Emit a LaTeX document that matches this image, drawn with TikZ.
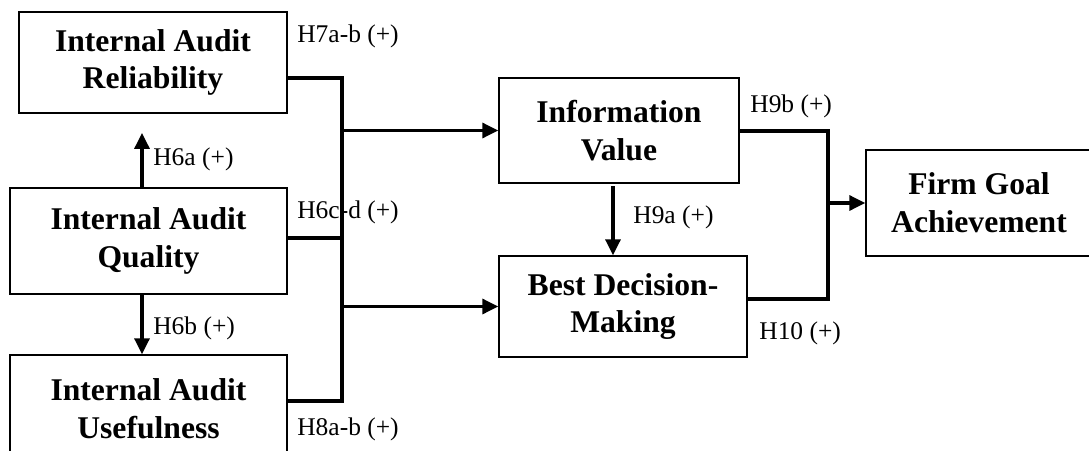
\documentclass[tikz,border=0pt]{standalone}
\usepackage{fontspec}
\setmainfont{Liberation Serif}
\usetikzlibrary{arrows.meta}

\tikzset{
  construct/.style={draw=black, line width=0.9pt, align=center, inner sep=0pt,
    font=\bfseries\fontsize{18}{21.5}\selectfont},
  hyp/.style={anchor=base west, inner sep=0pt, font=\fontsize{14.5}{17}\selectfont},
  link/.style={draw=black, line width=1.8pt},
  arrowlink/.style={link, -{Triangle[length=9pt,width=8.5pt]}}
}

\begin{document}
\begin{tikzpicture}[x=0.02cm, y=-0.02cm]
  \useasboundingbox (0,0) rectangle (1089,450);
  \clip (0,0) rectangle (1089,450);

  % constructs
  \node[construct, minimum width=5.36cm, minimum height=2.02cm] (rel) at (153,62.5)
    {Internal Audit\\Reliability};
  \node[construct, minimum width=5.54cm, minimum height=2.12cm] (qual) at (148.5,241)
    {Internal Audit\\Quality};
  \node[construct, minimum width=5.54cm, minimum height=2.14cm] (use) at (148.5,408.5)
    {Internal Audit\\Usefulness};
  \node[construct, minimum width=4.8cm, minimum height=2.1cm] (iv) at (619,130.5)
    {Information\\Value};
  \node[construct, minimum width=4.96cm, minimum height=2.02cm] (bd) at (623,306.5)
    {Best Decision-\\Making};
  \node[construct, minimum width=4.52cm, minimum height=2.12cm] (fg) at (979,203)
    {Firm Goal\\Achievement};

  % junction points
  \coordinate (busTop) at (342,78);
  \coordinate (busMid) at (342,238);
  \coordinate (busBot) at (342,401);
  \coordinate (h6aTip) at (142,133);
  \coordinate (h6bCol) at (142,300);
  \coordinate (h9aTop) at (613,186);
  \coordinate (mTop) at (828,131);
  \coordinate (mBot) at (828,299);

  % left bus
  \draw[link] (rel.east |- busTop) -- (busTop) -- (busBot) -- (use.east |- busBot);
  \draw[link] (qual.east |- busMid) -- (busMid);
  \draw[arrowlink] (busTop |- iv.west) -- (iv.west);
  \draw[arrowlink] (busTop |- bd.west) -- (bd.west);

  % vertical links on the left
  \draw[arrowlink] (qual.north -| h6aTip) -- (h6aTip);
  \draw[arrowlink] (qual.south -| h6bCol) -- (use.north -| h6bCol);

  % middle link
  \draw[arrowlink] (h9aTop) -- (bd.north -| h9aTop);

  % right bus
  \draw[link] (iv.east |- mTop) -- (mTop) -- (mBot) -- (bd.east |- mBot);
  \draw[arrowlink] (mTop |- fg.west) -- (fg.west);

  % hypothesis labels
  \node[hyp] (l7) at (297,42) {H7a-b (+)};
  \node[hyp] (l6a) at (153,165) {H6a (+)};
  \node[hyp] (l6cd) at (297,218) {H6c-d (+)};
  \node[hyp] (l6b) at (153,334) {H6b (+)};
  \node[hyp] (l8) at (297,435) {H8a-b (+)};
  \node[hyp] (l9b) at (750,112) {H9b (+)};
  \node[hyp] (l9a) at (633,223) {H9a (+)};
  \node[hyp] (l10) at (759,339) {H10 (+)};
\end{tikzpicture}
\end{document}
